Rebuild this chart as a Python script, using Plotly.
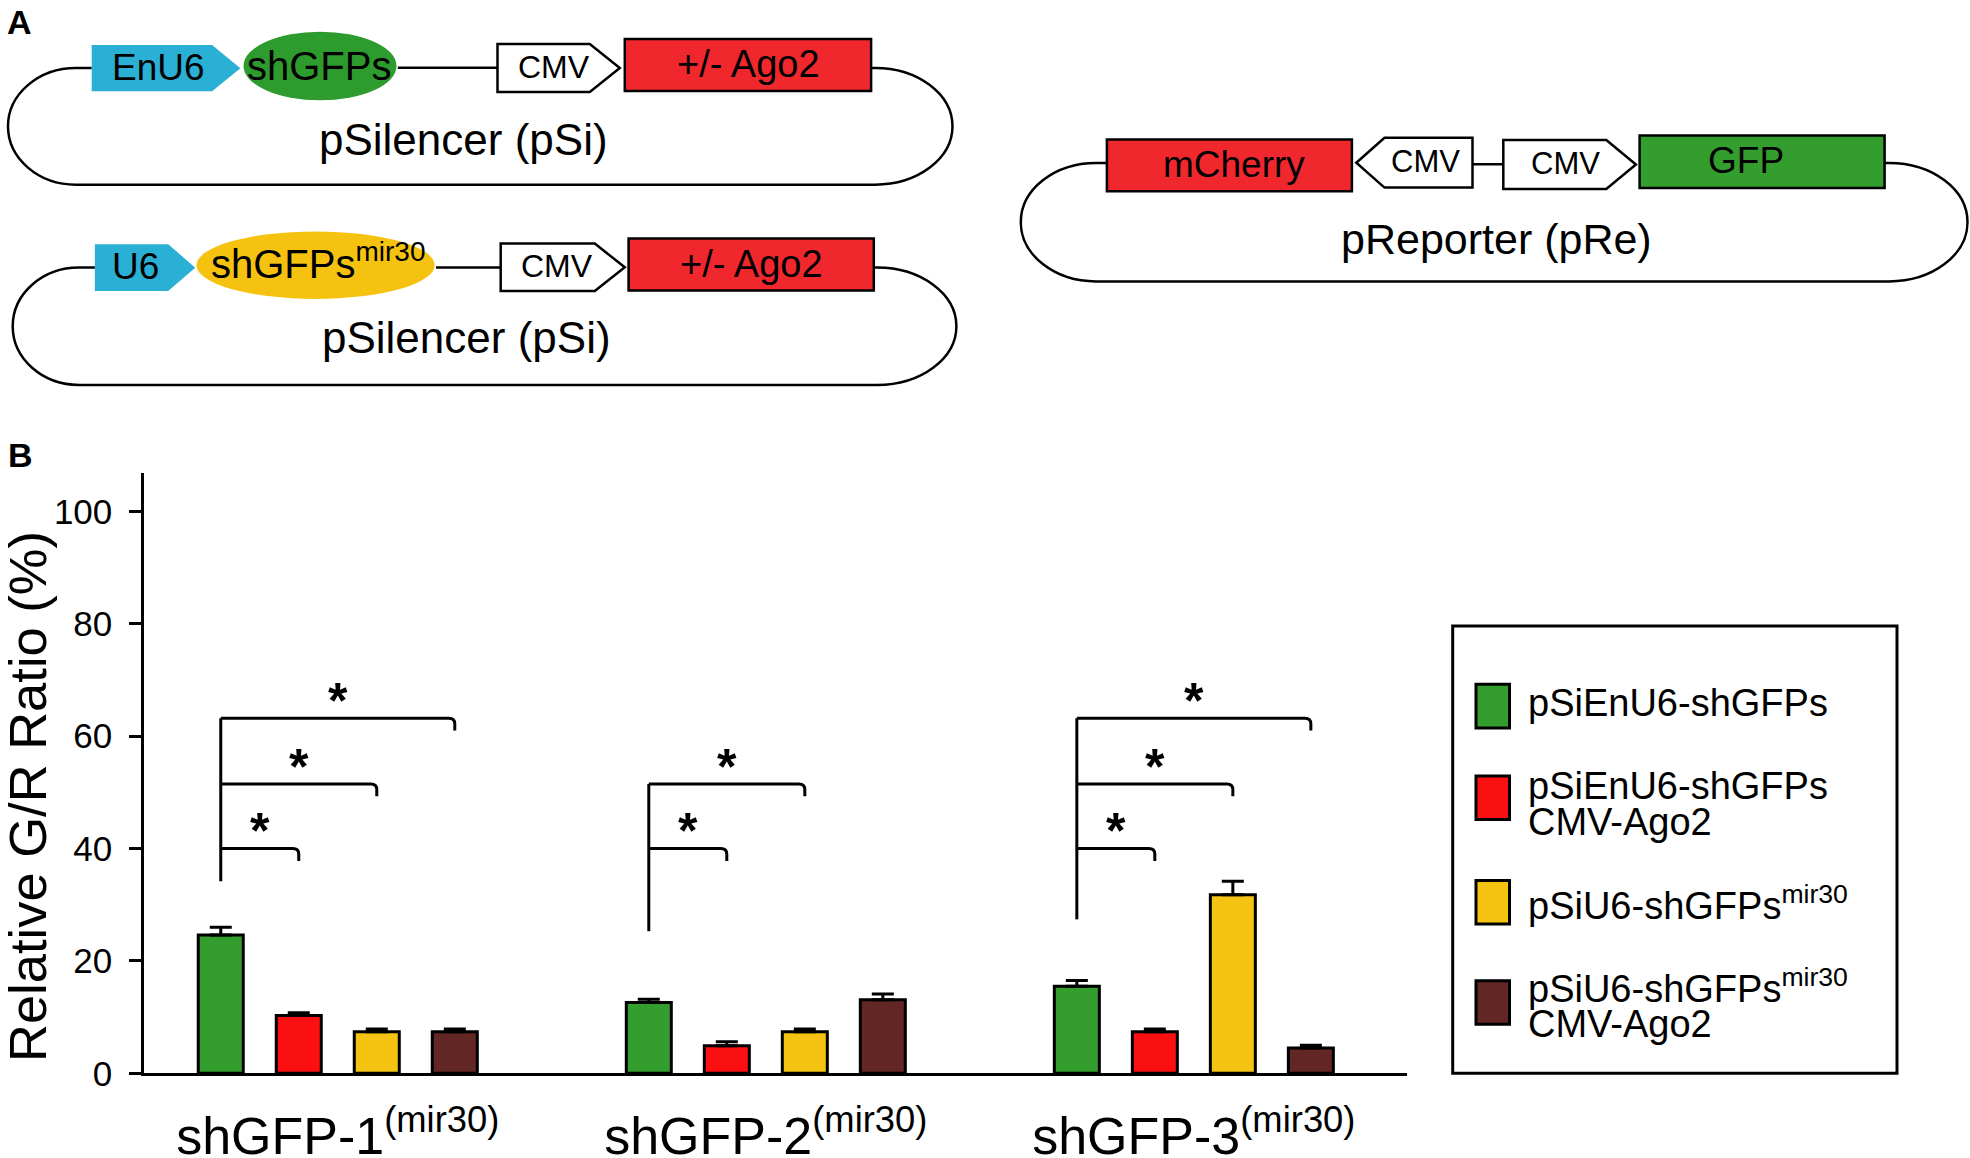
import plotly.graph_objects as go

W, H = 1970, 1158
FONT = "Liberation Sans, Arial, sans-serif"

# ---------------- data ----------------
categories = ["shGFP-1<sup>(mir30)</sup>", "shGFP-2<sup>(mir30)</sup>", "shGFP-3<sup>(mir30)</sup>"]
series_names = ["pSiEnU6-shGFPs",
                "pSiEnU6-shGFPs<br>CMV-Ago2",
                "pSiU6-shGFPs<sup>mir30</sup>",
                "pSiU6-shGFPs<sup>mir30</sup><br>CMV-Ago2"]
values_green = [24.6, 12.6, 15.5]
errors_green = [1.4, 0.6, 1.0]
values_red = [10.3, 4.9, 7.4]
errors_red = [0.5, 0.7, 0.5]
values_yellow = [7.4, 7.4, 31.8]
errors_yellow = [0.5, 0.5, 2.4]
values_brown = [7.4, 13.1, 4.5]
errors_brown = [0.5, 1.0, 0.5]
y_ticks = [0, 20, 40, 60, 80, 100]

# significance brackets per group: base of the vertical, compared series, bracket levels
bracket_bases = [34.2, 25.3, 27.4]
bracket_targets = [[1, 2, 3], [1, 2], [1, 2, 3]]
bracket_levels = [40.0, 51.5, 63.2]

bar_colors = ["#339E2E", "#FA1010", "#F5C412", "#622624"]
all_values = [values_green, values_red, values_yellow, values_brown]
all_errors = [errors_green, errors_red, errors_yellow, errors_brown]

BARGAP = 0.271
BARGROUPGAP = 0.423
slot = (1 - BARGAP) / 4


def bar_x(group, series):
    return group + (series - 1.5) * slot


fig = go.Figure()
xs = list(range(len(categories)))
for i in range(4):
    fig.add_trace(go.Bar(
        x=xs, y=all_values[i], name=series_names[i],
        marker=dict(color=bar_colors[i], line=dict(color="black", width=3)),
        error_y=dict(type="data", array=all_errors[i], arrayminus=[0] * len(xs),
                     symmetric=False, color="black", thickness=3, width=11),
        showlegend=False, hoverinfo="skip"))


def P(x, y):
    return f"{x / W:.5f},{1 - y / H:.5f}"


shapes = []
annotations = []


def paper_text(text, x, y, size, xanchor="center", yanchor="middle", bold=False, angle=0):
    annotations.append(dict(text=("<b>%s</b>" % text) if bold else text, x=x / W, y=1 - y / H,
                            xref="paper", yref="paper", showarrow=False,
                            xanchor=xanchor, yanchor=yanchor, textangle=angle,
                            font=dict(family=FONT, size=size, color="black")))


def path_shape(path, fill="rgba(0,0,0,0)", lc="black", lw=2.5):
    shapes.append(dict(type="path", path=path, xref="paper", yref="paper",
                       fillcolor=fill, line=dict(color=lc, width=lw)))


def pent_right(x0, xs_, xp, y0, y1, fill, lw):
    ym = (y0 + y1) / 2
    path_shape(f"M {P(x0, y0)} L {P(xs_, y0)} L {P(xp, ym)} L {P(xs_, y1)} L {P(x0, y1)} Z",
               fill=fill, lc="black" if lw > 0 else fill, lw=lw)


def pent_left(xp, xs_, x1, y0, y1, fill, lw):
    ym = (y0 + y1) / 2
    path_shape(f"M {P(xp, ym)} L {P(xs_, y0)} L {P(x1, y0)} L {P(x1, y1)} L {P(xs_, y1)} Z",
               fill=fill, lc="black", lw=lw)


def rect(x0, y0, x1, y1, fill, lw=2.5):
    shapes.append(dict(type="rect", x0=x0 / W, x1=x1 / W, y0=1 - y0 / H, y1=1 - y1 / H,
                       xref="paper", yref="paper", fillcolor=fill,
                       line=dict(color="black", width=lw)))


def ellipse(cx, cy, rx, ry, fill):
    shapes.append(dict(type="circle", x0=(cx - rx) / W, x1=(cx + rx) / W,
                       y0=1 - (cy + ry) / H, y1=1 - (cy - ry) / H,
                       xref="paper", yref="paper", fillcolor=fill, line=dict(width=0)))


def line(x0, y0, x1, y1, lw=2.5):
    shapes.append(dict(type="line", x0=x0 / W, x1=x1 / W, y0=1 - y0 / H, y1=1 - y1 / H,
                       xref="paper", yref="paper", line=dict(color="black", width=lw)))


def loop(xjl, xjr, ytop, ybot, cxl, rxl, cxr, rxr):
    k = 0.5523
    cy = (ytop + ybot) / 2
    ry = (ybot - ytop) / 2
    p = (f"M {P(xjl, ytop)} L {P(cxl, ytop)} "
         f"C {P(cxl - k * rxl, ytop)} {P(cxl - rxl, cy - k * ry)} {P(cxl - rxl, cy)} "
         f"C {P(cxl - rxl, cy + k * ry)} {P(cxl - k * rxl, ybot)} {P(cxl, ybot)} "
         f"L {P(cxr, ybot)} "
         f"C {P(cxr + k * rxr, ybot)} {P(cxr + rxr, cy + k * ry)} {P(cxr + rxr, cy)} "
         f"C {P(cxr + rxr, cy - k * ry)} {P(cxr + k * rxr, ytop)} {P(cxr, ytop)} "
         f"L {P(xjr, ytop)}")
    path_shape(p, lw=2.5)


CYAN = "#2BB0D5"
DGREEN = "#2E9B2E"
DRED = "#F0282E"
GOLD = "#F6C210"

# ---------------- panel A: plasmid 1 ----------------
loop(91.7, 871.1, 68.0, 184.7, 76, 68, 875, 77.5)
pent_right(91.7, 212.1, 240.4, 45.1, 91.3, CYAN, 0)
ellipse(320, 66, 76.5, 34.3, DGREEN)
line(397.8, 67.8, 497.5, 67.8)
pent_right(497.5, 589.8, 619.8, 44.1, 92.0, "white", 2.5)
rect(624.8, 39.1, 871.1, 91.0, DRED)
paper_text("EnU6", 158.8, 67, 37)
paper_text("shGFPs", 319, 66, 40)
paper_text("CMV", 554, 67, 32)
paper_text("+/- Ago2", 748.5, 64, 38)
paper_text("pSilencer (pSi)", 463, 139, 44)

# ---------------- plasmid 2 ----------------
loop(94.9, 873.8, 267.6, 385.0, 79, 66.3, 877, 79.4)
pent_right(94.9, 168.2, 195.2, 244.2, 291.1, CYAN, 0)
ellipse(315.6, 265.2, 119.1, 33.7, GOLD)
line(436, 267.6, 500.7, 267.6)
pent_right(500.7, 594.8, 624.8, 243.6, 291.1, "white", 2.5)
rect(628.6, 238.6, 873.8, 290.5, DRED)
paper_text("U6", 135.3, 266.7, 37)
paper_text("shGFPs<sup>mir30</sup>", 318, 261, 40)
paper_text("CMV", 557.2, 266.4, 32)
paper_text("+/- Ago2", 751.4, 263.5, 38)
paper_text("pSilencer (pSi)", 466, 337, 44)

# ---------------- plasmid 3 ----------------
loop(1106.9, 1884.6, 163.0, 281.4, 1096, 75.2, 1889, 78.5)
rect(1106.9, 139.5, 1351.9, 191.2, DRED)
pent_left(1356.3, 1384.5, 1472.5, 137.8, 187.6, "white", 2.5)
line(1472.5, 164.3, 1504.5, 164.3)
pent_right(1503.3, 1606.3, 1635.9, 140.1, 189.0, "white", 2.5)
rect(1639.6, 135.4, 1884.6, 188.0, "#339E2E")
paper_text("mCherry", 1234.4, 164.3, 37)
paper_text("CMV", 1425, 161.7, 31)
paper_text("CMV", 1565.6, 163.5, 31)
paper_text("GFP", 1745.8, 160.7, 37)
paper_text("pReporter (pRe)", 1496, 239, 43)

# panel letters
paper_text("A", 19, 22, 34, bold=True)
paper_text("B", 20, 455, 34, bold=True)

# y axis title
paper_text("Relative G/R Ratio (%)", 27, 797, 52.5, angle=-90)

# ---------------- significance brackets (data coords) ----------------
for g, (base, targets) in enumerate(zip(bracket_bases, bracket_targets)):
    xv = bar_x(g, 0)
    top = bracket_levels[len(targets) - 1]
    shapes.append(dict(type="line", xref="x", yref="y", x0=xv, x1=xv, y0=base, y1=top,
                       line=dict(color="black", width=3)))
    for j, t in enumerate(targets):
        lvl = bracket_levels[j]
        xe = bar_x(g, t)
        rx, ry = 0.014, 1.0
        p = (f"M {xv},{lvl} L {xe - rx},{lvl} Q {xe},{lvl} {xe},{lvl - ry} "
             f"L {xe},{lvl - 2.2}")
        shapes.append(dict(type="path", xref="x", yref="y", path=p,
                           line=dict(color="black", width=3)))
        annotations.append(dict(text="<b>*</b>", x=(xv + xe) / 2, y=lvl + 3.8, xref="x", yref="y",
                                showarrow=False, xanchor="center", yanchor="middle", yshift=-4,
                                font=dict(family=FONT, size=50, color="black")))

# ---------------- legend (drawn) ----------------
rect(1452.7, 626.0, 1897.0, 1073.3, "rgba(0,0,0,0)", lw=3)
swatch_y = [(684.3, 728.1), (776.0, 819.6), (880.4, 923.9), (980.8, 1024.2)]
text_y = [[703.0], [785.8, 822.4], [903.0], [986.0, 1023.5]]
for i, name in enumerate(series_names):
    y0, y1 = swatch_y[i]
    rect(1476.0, y0, 1509.5, y1, bar_colors[i], lw=3)
    for part, ty in zip(name.split("<br>"), text_y[i]):
        paper_text(part, 1526, ty, 38, xanchor="left")

fig.update_layout(
    width=W, height=H,
    margin=dict(l=0, r=0, t=0, b=0),
    paper_bgcolor="white", plot_bgcolor="white",
    barmode="group", bargap=BARGAP, bargroupgap=BARGROUPGAP,
    shapes=shapes, annotations=annotations,
    font=dict(family=FONT, color="black"),
    xaxis=dict(domain=[144.3 / W, 1407 / W], range=[-0.452, 2.498],
               tickvals=xs, ticktext=categories, ticks="",
               tickfont=dict(family=FONT, size=52, color="black"),
               ticklabelstandoff=15,
               showline=True, linecolor="black", linewidth=3,
               showgrid=False, zeroline=False, automargin=False),
    yaxis=dict(domain=[1 - 1073.3 / H, 1 - 473.3 / H], range=[0, 106.8],
               tickvals=y_ticks, ticks="outside", ticklen=12, tickwidth=3, tickcolor="black",
               tickfont=dict(family=FONT, size=35, color="black"),
               ticklabelstandoff=10,
               showline=True, linecolor="black", linewidth=3,
               showgrid=False, zeroline=False, automargin=False),
)

fig.write_html("out.html", config={"displayModeBar": False},
               post_script="document.body.style.margin='0px';")
